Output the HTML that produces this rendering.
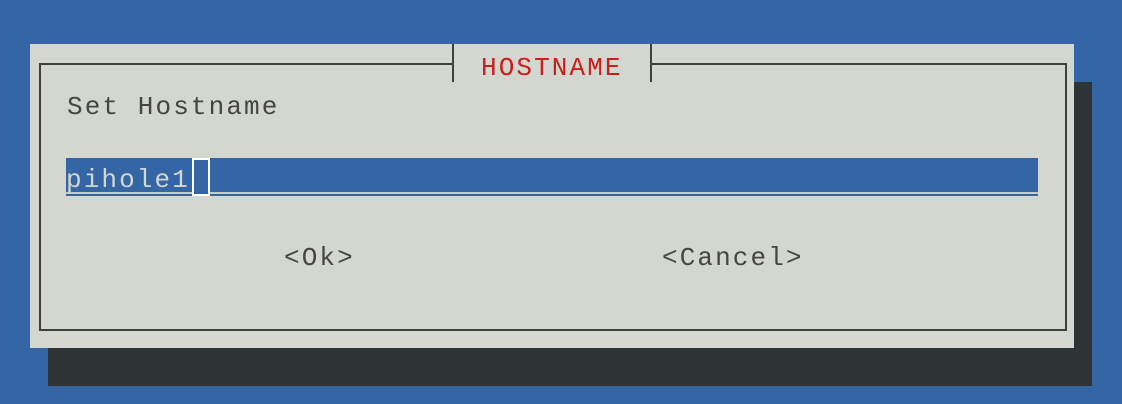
<!DOCTYPE html>
<html><head><meta charset="utf-8"><style>
body{margin:0;width:1122px;height:404px;background:#3465a4;position:relative;overflow:hidden;font-family:"Liberation Mono",monospace;}
.a{position:absolute}
.t{position:absolute;font-size:26px;line-height:1;letter-spacing:2.1px;white-space:pre;color:#454545}
</style></head><body>
<div class="a" style="left:48px;top:82px;width:1044px;height:304px;background:#2e3436"></div>
<div class="a" style="left:30px;top:44px;width:1044px;height:304px;background:#d3d7cf"></div>
<div class="a" style="left:39px;top:63px;width:1024px;height:264px;border:2px solid #404040"></div>
<div class="a" style="left:452px;top:44px;width:196px;height:38px;background:#d3d7cf;border-left:2px solid #404040;border-right:2px solid #404040"></div>
<div class="t" style="left:481px;top:55px;color:#cc1c1c">HOSTNAME</div>
<div class="t" style="left:67px;top:94px">Set Hostname</div>
<div class="a" style="left:66px;top:158px;width:972px;height:38px;background:#3465a4"></div>
<div class="a" style="left:210px;top:192px;width:828px;height:2px;background:#c8ccc4"></div>
<div class="a" style="left:66px;top:192px;width:126px;height:2px;background:#c8ccc4"></div>
<div class="a" style="left:192px;top:158px;width:14px;height:34px;border:2px solid #fff"></div>
<div class="t" style="left:66px;top:167px;color:#d3d7cf">pihole1</div>
<div class="t" style="left:284px;top:245px">&lt;Ok&gt;</div>
<div class="t" style="left:662px;top:245px">&lt;Cancel&gt;</div>
</body></html>
